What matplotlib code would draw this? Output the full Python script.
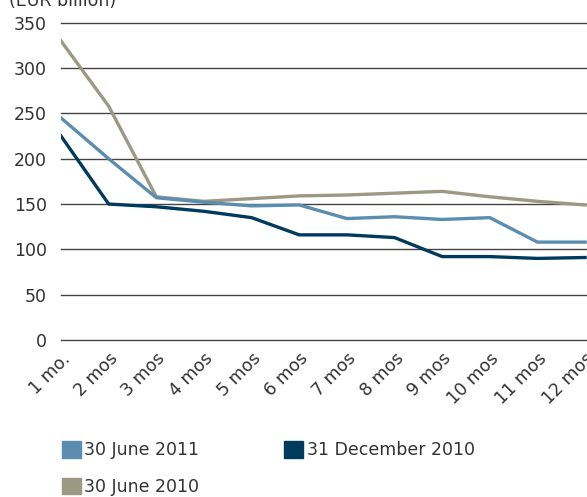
import matplotlib
matplotlib.use("Agg")
import matplotlib.pyplot as plt
import matplotlib.transforms as mtransforms
from matplotlib.patches import Patch

months = ["1 mo.", "2 mos", "3 mos", "4 mos", "5 mos", "6 mos",
          "7 mos", "8 mos", "9 mos", "10 mos", "11 mos", "12 mos"]
jun_2011 = [245, 200, 157, 152, 148, 149, 134, 136, 133, 135, 108, 108]
dec_2010 = [225, 150, 147, 142, 135, 116, 116, 113, 92, 92, 90, 91]
jun_2010 = [330, 258, 158, 153, 156, 159, 160, 162, 164, 158, 153, 149]
yticks = [0, 50, 100, 150, 200, 250, 300, 350]

c_light = "#5a8db0"
c_dark = "#003b5e"
c_gray = "#9b9883"
txt = "#333333"

fig = plt.figure(figsize=(5.87, 4.97), dpi=100)
ax = fig.add_axes([0.104, 0.316, 0.896, 0.638])
x = list(range(len(months)))

for yv in yticks:
    ax.axhline(yv, color="#444444", lw=1.0, zorder=1, clip_on=False)

ax.plot(x, jun_2010, color=c_gray, lw=2.4, zorder=3)
ax.plot(x, jun_2011, color=c_light, lw=2.4, zorder=3)
ax.plot(x, dec_2010, color=c_dark, lw=2.4, zorder=4)

ax.set_xlim(0, 11.04)
ax.set_ylim(0, 350)
ax.set_yticks(yticks)
ax.set_xticks(x)
ax.set_xticklabels(months, rotation=45, ha="right", rotation_mode="anchor")
offset = mtransforms.ScaledTranslation(28 / 100, 0, fig.dpi_scale_trans)
for lab in ax.get_xticklabels():
    lab.set_transform(lab.get_transform() + offset)
ax.tick_params(axis="both", length=0, labelsize=12.5, colors=txt)
ax.tick_params(axis="y", pad=10)
ax.tick_params(axis="x", pad=7)
for s in ax.spines.values():
    s.set_visible(False)

fig.text(0.015, 0.998, "(EUR billion)", fontsize=12.5, color=txt, va="center")

# column-first fill: light + gray in col 1, dark in col 2
handles = [Patch(color=c_light, label="30 June 2011"),
           Patch(color=c_gray, label="30 June 2010"),
           Patch(color=c_dark, label="31 December 2010")]
fig.legend(handles=handles, loc="upper left", bbox_to_anchor=(0.09, 0.13),
           ncol=2, frameon=False, fontsize=12.5, handlelength=1.1,
           handleheight=1.1, handletextpad=0.2, columnspacing=4.9,
           labelcolor=txt, borderpad=0, labelspacing=1.05)

fig.savefig("out.png", dpi=100)
